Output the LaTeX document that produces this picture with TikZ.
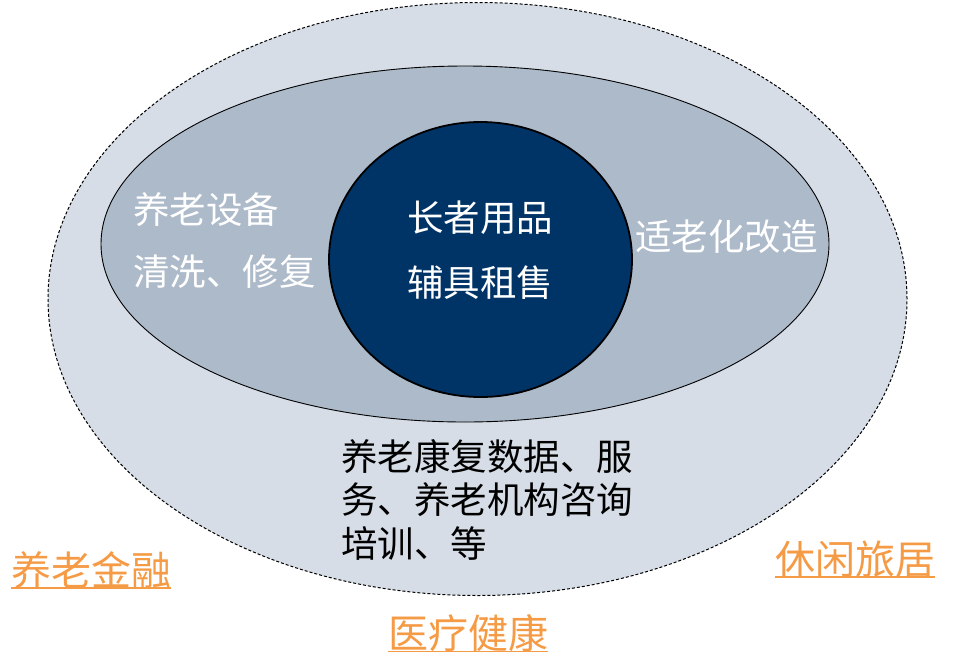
\documentclass[tikz,border=0pt]{standalone}
\usepackage{fontspec}
\setmainfont{Noto Sans CJK SC}
\usetikzlibrary{shapes.geometric}
\definecolor{outerfill}{HTML}{D6DDE6}
\definecolor{innerfill}{HTML}{ADBACA}
\definecolor{corefill}{HTML}{003366}
\definecolor{orangetxt}{HTML}{F59A45}
\tikzset{
  ring/.style={ellipse, inner sep=0pt},
  wtext/.style={text=white, font=\fontsize{36.5}{62}\selectfont, align=center, inner sep=0pt},
  btext/.style={text=black, font=\fontsize{36.5}{43.5}\selectfont, align=left, inner sep=0pt},
  otext/.style={text=orangetxt, font=\fontsize{40}{40}\selectfont, inner sep=0pt},
  uline/.style={draw=orangetxt, line width=1.6pt}
}
\begin{document}
\begin{tikzpicture}[x=1pt,y=-1pt]
\useasboundingbox (0,0) rectangle (953,665);
\node[ring, draw=black, line width=1pt, dash pattern=on 3pt off 2pt, fill=outerfill, minimum width=859pt, minimum height=593pt] (outer) at (477.5,299) {};
\node[ring, draw=black, line width=0.9pt, fill=innerfill, minimum width=728pt, minimum height=356pt] (inner) at (465,244) {};
\node[ring, draw=black, line width=1.8pt, fill=corefill, minimum width=303pt, minimum height=275pt] (core) at (480.5,259.5) {};
\node[wtext, anchor=west] (equip1) at (133,210) {养老设备};
\node[wtext, anchor=west] (equip2) at (133,272) {清洗、修复};
\node[wtext] (core1) at (480,218) {长者用品};
\node[wtext] (core2) at (480,283) {辅具租售};
\node[wtext, anchor=west] (adapt) at (635,237) {适老化改造};
\node[btext, anchor=north west] (data) at (341,439) {养老康复数据、服\\务、养老机构咨询\\培训、等};
\node[otext, anchor=west] (fin) at (11,570) {养老金融};
\node[otext, anchor=west] (leis) at (775,559) {休闲旅居};
\node[otext, anchor=west] (med) at (388,633) {医疗健康};
\draw[uline] ([yshift=-3pt]fin.base west) -- ([yshift=-3pt]fin.base east);
\draw[uline] ([yshift=-3pt]leis.base west) -- ([yshift=-3pt]leis.base east);
\draw[uline] ([yshift=-3pt]med.base west) -- ([yshift=-3pt]med.base east);
\end{tikzpicture}
\end{document}
